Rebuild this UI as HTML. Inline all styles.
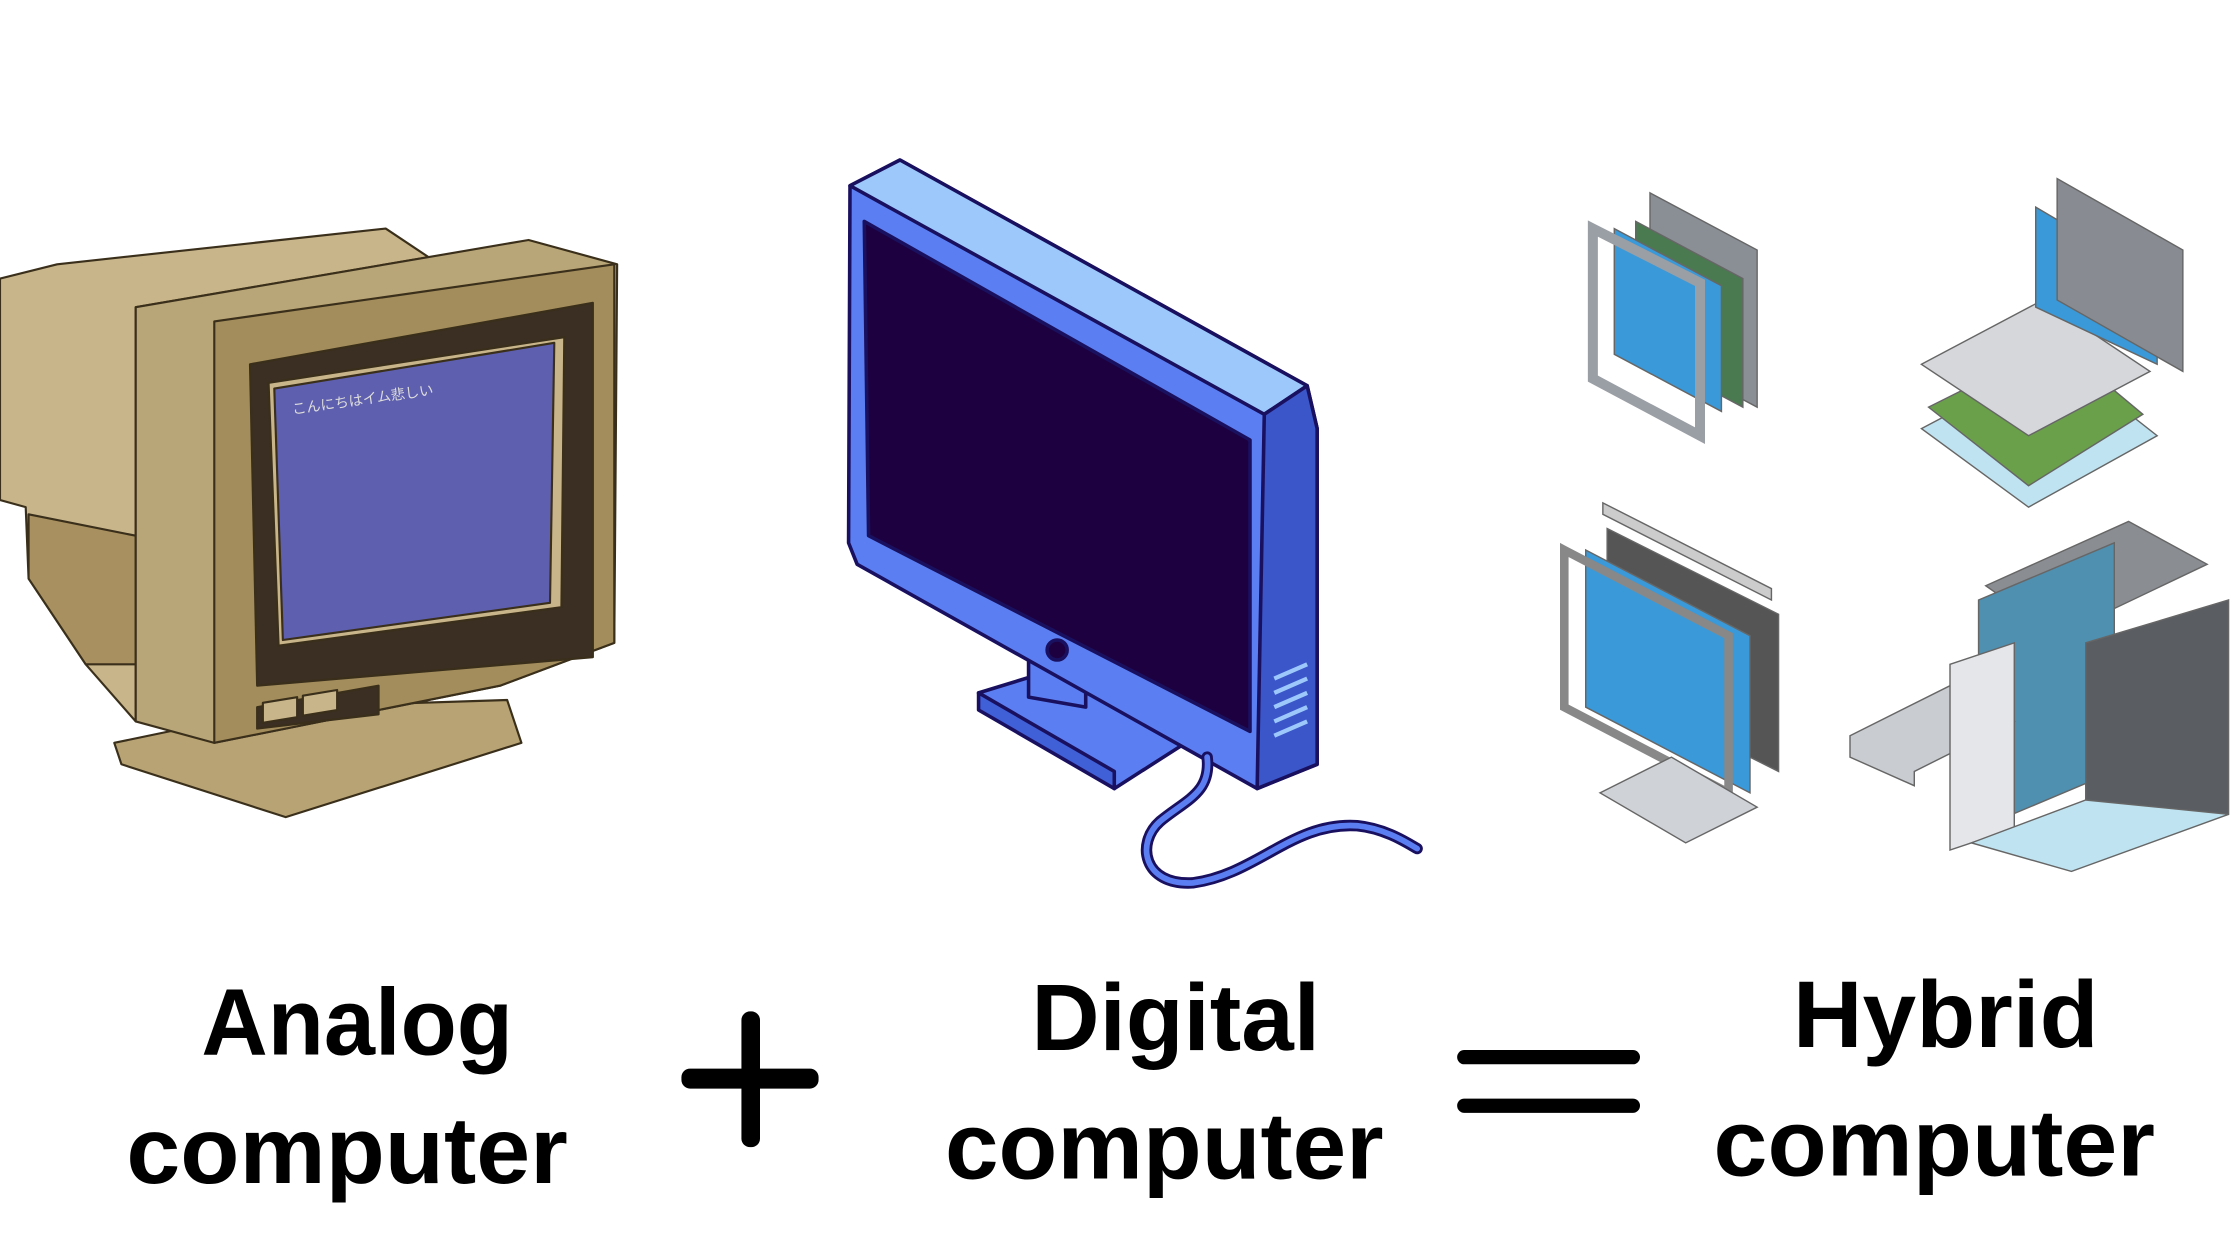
<!DOCTYPE html>
<html><head><meta charset="utf-8"><style>
html,body{margin:0;padding:0;background:#fff;}
svg{display:block}
text{font-family:"Liberation Sans","DejaVu Sans",sans-serif;font-weight:bold;fill:#000}
</style></head><body>
<svg width="2240" height="1260" viewBox="0 0 1568 882" xmlns="http://www.w3.org/2000/svg">
<rect width="1568" height="882" fill="#fff"/>
<!-- Analog computer -->
<g stroke="#3a2f1a" stroke-width="1.5" stroke-linejoin="round">
<polygon points="0,195 40,185 270,160 300,180 95,215 95,505 60,465 20,405 18,355 0,350" fill="#c8b58a"/>
<polygon points="20,360 95,375 95,465 60,465 20,405" fill="#a89060"/>
<polygon points="80,520 200,495 355,490 365,520 200,572 85,535" fill="#b8a374"/>
<polygon points="95,215 370,168 432,185 430,450 350,480 150,520 95,505" fill="#b9a678"/>
<polygon points="150,225 430,185 430,450 350,480 150,520" fill="#a38d5c"/>
<polygon points="175,255 415,212 415,460 180,480" fill="#3a2f22"/>
<polygon points="188,268 395,236 393,425 195,452" fill="#c9b58a"/>
<polygon points="192,272 388,240 385,422 198,448" fill="#5e5fae"/>
<polygon points="180,495 265,480 265,500 180,510" fill="#3a2f22"/>
<polygon points="184,492 208,488 208,502 184,506" fill="#c9b58a"/>
<polygon points="212,487 236,483 236,497 212,501" fill="#c9b58a"/>
</g>
<text x="205" y="290" font-size="10" style="font-weight:normal;fill:#ddd;font-family:'Noto Sans CJK JP',sans-serif" transform="rotate(-8 205 290)">こんにちはイム悲しい</text>
<!-- Digital computer -->
<g stroke="#1a1060" stroke-width="2.5" stroke-linejoin="round">
<polygon points="685,485 760,462 830,520 780,552" fill="#5b7ff2"/>
<polygon points="685,485 685,497 780,552 780,540" fill="#4060d8"/>
<polygon points="720,455 760,440 760,495 720,488" fill="#5b7ff2"/>
<polygon points="595,130 630,112 915,270 922,300 922,535 880,552 600,395 594,380" fill="#5b7ff2"/>
<polygon points="595,130 630,112 915,270 885,290" fill="#9cc8fb"/>
<polygon points="885,290 915,270 922,300 922,535 880,552" fill="#3a56c9"/>
<polygon points="605,155 875,308 875,512 608,375" fill="#1d003f"/>
<circle cx="740" cy="455" r="7" fill="#1d003f"/>
<path d="M845,530 C848,555 830,560 812,575 C795,590 800,620 835,618 C880,612 905,575 950,578 C970,580 985,590 992,594" fill="none" stroke="#1a1060" stroke-width="8" stroke-linecap="round"/>
<path d="M845,530 C848,555 830,560 812,575 C795,590 800,620 835,618 C880,612 905,575 950,578 C970,580 985,590 992,594" fill="none" stroke="#5b7ff2" stroke-width="4" stroke-linecap="round"/>
</g>
<g stroke="#9cc8fb" stroke-width="3"><line x1="892" y1="475" x2="915" y2="465"/><line x1="892" y1="485" x2="915" y2="475"/><line x1="892" y1="495" x2="915" y2="485"/><line x1="892" y1="505" x2="915" y2="495"/><line x1="892" y1="515" x2="915" y2="505"/></g>
<!-- Hybrid -->
<g stroke="#666" stroke-width="1">
<polygon points="1155,135 1230,175 1230,285 1155,245" fill="#8a8f96"/>
<polygon points="1145,155 1220,195 1220,285 1145,245" fill="#4a7a50"/>
<polygon points="1130,160 1205,200 1205,288 1130,248" fill="#3a99d8"/>
<polygon points="1115,160 1190,198 1190,305 1115,265" fill="none" stroke="#9a9ea5" stroke-width="7"/>
<polygon points="1345,300 1440,250 1510,305 1420,355" fill="#bfe3f0"/>
<polygon points="1350,285 1440,240 1500,290 1420,340" fill="#6aa04a"/>
<polygon points="1345,255 1430,210 1505,260 1420,305" fill="#d5d7da"/>
<polygon points="1425,145 1510,195 1510,255 1425,215" fill="#3a99d8"/>
<polygon points="1440,125 1528,175 1528,260 1440,210" fill="#888c92"/>
<polygon points="1122,352 1240,412 1240,420 1122,360" fill="#ccc"/>
<polygon points="1125,370 1245,430 1245,540 1125,480" fill="#555"/>
<polygon points="1110,385 1225,445 1225,555 1110,495" fill="#3a99d8"/>
<polygon points="1095,385 1210,445 1210,555 1095,495" fill="none" stroke="#888" stroke-width="6"/>
<polygon points="1120,555 1170,530 1230,565 1180,590" fill="#cfd2d6"/>
<polygon points="1390,410 1490,365 1545,395 1440,445" fill="#8a8d92"/>
<polygon points="1385,420 1480,380 1480,540 1385,580" fill="#4f8fb0"/>
<polygon points="1460,450 1560,420 1560,570 1460,600" fill="#5a5d62"/>
<polygon points="1295,515 1365,480 1410,505 1340,540 1340,550 1295,530" fill="#c9ccd0"/>
<polygon points="1365,465 1410,450 1410,580 1365,595" fill="#e4e6e9"/>
<polygon points="1380,590 1460,560 1560,570 1450,610" fill="#bfe3f0"/>
</g>
<!-- Labels -->
<text x="250" y="738" font-size="66" text-anchor="middle" textLength="218" lengthAdjust="spacingAndGlyphs">Analog</text>
<text x="243" y="828" font-size="66" text-anchor="middle" textLength="309" lengthAdjust="spacingAndGlyphs">computer</text>
<text x="823" y="735" font-size="66" text-anchor="middle" textLength="202" lengthAdjust="spacingAndGlyphs">Digital</text>
<text x="815" y="825" font-size="66" text-anchor="middle" textLength="307" lengthAdjust="spacingAndGlyphs">computer</text>
<text x="1362" y="733" font-size="66" text-anchor="middle" textLength="214" lengthAdjust="spacingAndGlyphs">Hybrid</text>
<text x="1354" y="823" font-size="66" text-anchor="middle" textLength="309" lengthAdjust="spacingAndGlyphs">computer</text>
<rect x="519" y="708" width="13" height="95" rx="6" fill="#000"/>
<rect x="477" y="748" width="96" height="14" rx="6" fill="#000"/>
<rect x="1020" y="735" width="128" height="10" rx="5" fill="#000"/>
<rect x="1020" y="769" width="128" height="10" rx="5" fill="#000"/>
</svg>
</body></html>
